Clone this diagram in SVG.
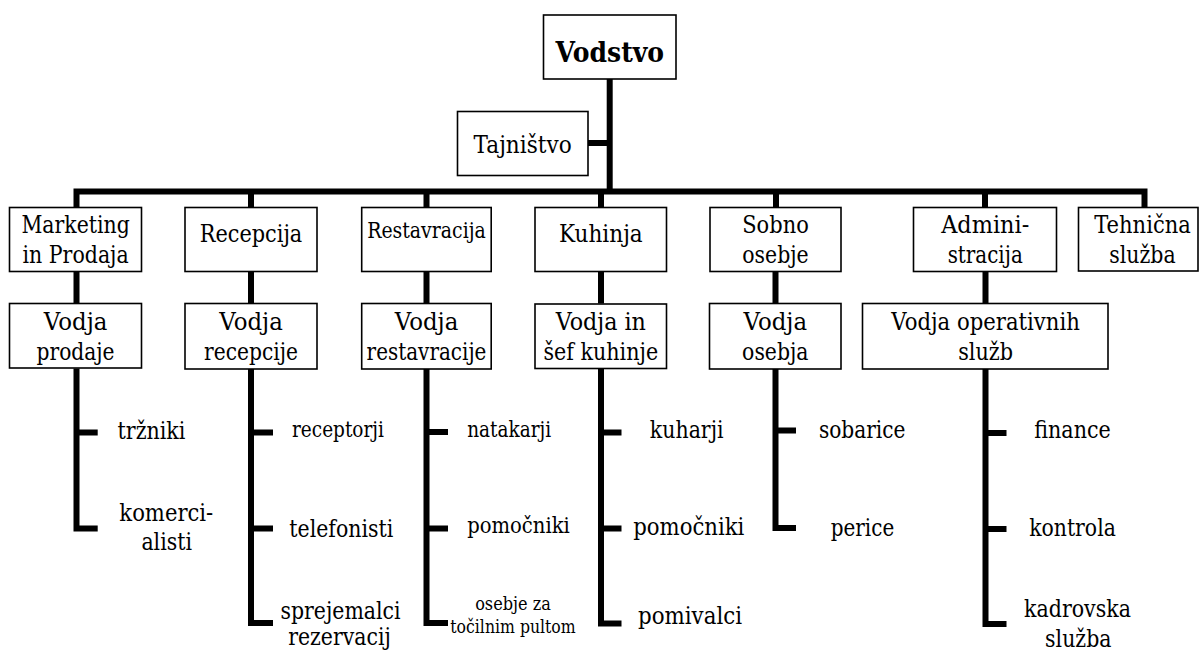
<svg xmlns="http://www.w3.org/2000/svg" width="1201" height="653" viewBox="0 0 1201 653">
<style>
.box{fill:#fff;stroke:#000;stroke-width:1.6}
.ln{fill:none;stroke:#000;stroke-width:6;stroke-linejoin:miter;stroke-linecap:butt}
text{font-family:"DejaVu Serif","Liberation Serif",serif;font-size:23.6px;fill:#000;text-anchor:middle}
.b{font-weight:bold;font-size:28.4px}
.s{font-size:21.8px}
.xs{font-size:18.7px}
</style>
<rect width="1201" height="653" fill="#fff"/>
<g id="connectors">
<path class="ln" d="M609.7 79 V191.5"/>
<path class="ln" d="M588 143 H609.7"/>
<path class="ln" d="M76.5 207.5 V191.5 H1144.5 V207.5"/>
<path class="ln" d="M251 191.5 V207.5 M426.5 191.5 V207.5 M601 191.5 V207.5 M776 191.5 V207.5 M985 191.5 V207.5"/>
<path class="ln" d="M76.5 271.5 V303.5 M251 271.5 V303.5 M426.5 271.5 V303.5 M601 271.5 V303.5 M775.5 271.5 V303.5 M985.5 271.5 V303.5"/>
<path class="ln" d="M76.5 368.5 V528.5 H97.7 M76.5 432.5 H97.7"/>
<path class="ln" d="M251 368.5 V623 H273 M251 432.5 H273 M251 528.5 H273"/>
<path class="ln" d="M426.5 368.5 V623 H448 M426.5 432 H448 M426.5 528.5 H448"/>
<path class="ln" d="M601 368.5 V623.5 H621.5 M601 432.5 H621.5 M601 528.5 H621.5"/>
<path class="ln" d="M775.5 368.5 V528 H796 M775.5 430.5 H796"/>
<path class="ln" d="M985.5 368.5 V624 H1006.5 M985.5 433 H1006.5 M985.5 529 H1006.5"/>
</g>
<g id="vodstvo"><rect class="box" x="543.5" y="15" width="132.5" height="64"/><text class="b" x="609.8" y="61.7" textLength="108.5" lengthAdjust="spacingAndGlyphs">Vodstvo</text></g>
<g id="tajnistvo"><rect class="box" x="457.5" y="111.5" width="130.5" height="64"/><text x="522.6" y="152.7" textLength="98.2" lengthAdjust="spacingAndGlyphs">Tajništvo</text></g>
<g id="marketing"><rect class="box" x="9.5" y="207.5" width="132" height="64"/><text x="75.6" y="233.3" textLength="108.3" lengthAdjust="spacingAndGlyphs">Marketing</text><text x="75.6" y="262.7" textLength="106.2" lengthAdjust="spacingAndGlyphs">in Prodaja</text></g>
<g id="recepcija"><rect class="box" x="185" y="207.5" width="132" height="64"/><text x="251" y="241.7" textLength="102.5" lengthAdjust="spacingAndGlyphs">Recepcija</text></g>
<g id="restavracija"><rect class="box" x="361.7" y="207.5" width="129.5" height="64"/><text class="s" x="426.5" y="238.3" textLength="118.6" lengthAdjust="spacingAndGlyphs">Restavracija</text></g>
<g id="kuhinja"><rect class="box" x="535" y="207.5" width="131.5" height="64"/><text x="600.8" y="241.7" textLength="83.8" lengthAdjust="spacingAndGlyphs">Kuhinja</text></g>
<g id="sobno"><rect class="box" x="710" y="207.5" width="131" height="64"/><text x="775.5" y="233.3" textLength="66.5" lengthAdjust="spacingAndGlyphs">Sobno</text><text x="775.5" y="263" textLength="66.4" lengthAdjust="spacingAndGlyphs">osebje</text></g>
<g id="admin"><rect class="box" x="913.5" y="207.5" width="143" height="64"/><text x="985.2" y="233.3" textLength="88.1" lengthAdjust="spacingAndGlyphs">Admini-</text><text x="985.2" y="263.3" textLength="75.1" lengthAdjust="spacingAndGlyphs">stracija</text></g>
<g id="tehnicna"><rect class="box" x="1078.5" y="207.5" width="119.5" height="63.5"/><text x="1142.5" y="233.3" textLength="96.7" lengthAdjust="spacingAndGlyphs">Tehnična</text><text x="1142.5" y="263.3" textLength="66.4" lengthAdjust="spacingAndGlyphs">služba</text></g>
<g id="vodja-prodaje"><rect class="box" x="9.5" y="303.5" width="132" height="64.5"/><text x="75.6" y="329.5" textLength="63.5" lengthAdjust="spacingAndGlyphs">Vodja</text><text x="75.6" y="359.5" textLength="78" lengthAdjust="spacingAndGlyphs">prodaje</text></g>
<g id="vodja-recepcije"><rect class="box" x="185" y="303.5" width="132" height="65.5"/><text x="251" y="329.5" textLength="63.5" lengthAdjust="spacingAndGlyphs">Vodja</text><text x="251" y="359.5" textLength="93.8" lengthAdjust="spacingAndGlyphs">recepcije</text></g>
<g id="vodja-restavracije"><rect class="box" x="361.7" y="303.5" width="129.5" height="65.5"/><text x="426.5" y="329.5" textLength="63.5" lengthAdjust="spacingAndGlyphs">Vodja</text><text x="426.5" y="359.5" textLength="119.8" lengthAdjust="spacingAndGlyphs">restavracije</text></g>
<g id="vodja-kuhinje"><rect class="box" x="535" y="304" width="131.5" height="64.5"/><text x="600.8" y="329.5" textLength="90.3" lengthAdjust="spacingAndGlyphs">Vodja in</text><text x="600.8" y="359.5" textLength="114.8" lengthAdjust="spacingAndGlyphs">šef kuhinje</text></g>
<g id="vodja-osebja"><rect class="box" x="709.5" y="303.5" width="131.5" height="65.5"/><text x="775.3" y="329.5" textLength="63.5" lengthAdjust="spacingAndGlyphs">Vodja</text><text x="775.3" y="359.5" textLength="66.4" lengthAdjust="spacingAndGlyphs">osebja</text></g>
<g id="vodja-operativnih"><rect class="box" x="862.5" y="303.5" width="245.5" height="65.5"/><text x="985.6" y="329.5" textLength="188.5" lengthAdjust="spacingAndGlyphs">Vodja operativnih</text><text x="985.6" y="359.5" textLength="54.9" lengthAdjust="spacingAndGlyphs">služb</text></g>
<g id="trzniki"><text x="151.5" y="439.3" textLength="67.9" lengthAdjust="spacingAndGlyphs">tržniki</text></g>
<g id="komercialisti"><text x="166.3" y="520.7" textLength="93.9" lengthAdjust="spacingAndGlyphs">komerci-</text><text x="166.7" y="550" textLength="50.6" lengthAdjust="spacingAndGlyphs">alisti</text></g>
<g id="receptorji"><text class="s" x="338" y="436.7" textLength="92" lengthAdjust="spacingAndGlyphs">receptorji</text></g>
<g id="telefonisti"><text x="341.3" y="536.7" textLength="104" lengthAdjust="spacingAndGlyphs">telefonisti</text></g>
<g id="sprejemalci"><text x="340.5" y="618.5" textLength="119.9" lengthAdjust="spacingAndGlyphs">sprejemalci</text><text x="339.5" y="645" textLength="102.5" lengthAdjust="spacingAndGlyphs">rezervacij</text></g>
<g id="natakarji"><text class="s" x="509.2" y="437.3" textLength="84" lengthAdjust="spacingAndGlyphs">natakarji</text></g>
<g id="pomocniki-r"><text class="s" x="518.5" y="533.3" textLength="102.7" lengthAdjust="spacingAndGlyphs">pomočniki</text></g>
<g id="tocilni"><text class="xs" x="513" y="610" textLength="75.7" lengthAdjust="spacingAndGlyphs">osebje za</text><text class="xs" x="513" y="633.3" textLength="125.4" lengthAdjust="spacingAndGlyphs">točilnim pultom</text></g>
<g id="kuharji"><text x="686.7" y="438.3" textLength="73.7" lengthAdjust="spacingAndGlyphs">kuharji</text></g>
<g id="pomocniki-k"><text x="688.8" y="535" textLength="111.2" lengthAdjust="spacingAndGlyphs">pomočniki</text></g>
<g id="pomivalci"><text x="690" y="624" textLength="104" lengthAdjust="spacingAndGlyphs">pomivalci</text></g>
<g id="sobarice"><text x="862.2" y="438.3" textLength="86.6" lengthAdjust="spacingAndGlyphs">sobarice</text></g>
<g id="perice"><text x="862.5" y="536" textLength="63.5" lengthAdjust="spacingAndGlyphs">perice</text></g>
<g id="finance"><text x="1072.5" y="438.3" textLength="76.5" lengthAdjust="spacingAndGlyphs">finance</text></g>
<g id="kontrola"><text x="1072.5" y="536" textLength="86.7" lengthAdjust="spacingAndGlyphs">kontrola</text></g>
<g id="kadrovska"><text x="1077.5" y="616.7" textLength="106.9" lengthAdjust="spacingAndGlyphs">kadrovska</text><text x="1078.3" y="646.7" textLength="66.4" lengthAdjust="spacingAndGlyphs">služba</text></g>
</svg>
